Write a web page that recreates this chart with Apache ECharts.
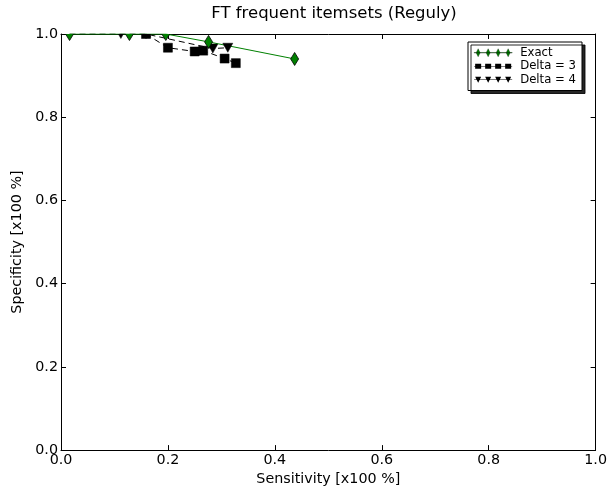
<!DOCTYPE html>
<html><head><meta charset="utf-8">
<script src="https://cdn.jsdelivr.net/npm/echarts@6/dist/echarts.min.js"></script>
<style>html,body{margin:0;padding:0;background:#fff}#c{width:610px;height:491px}</style>
</head><body><div id="c"></div>
<script>
const titleText = 'FT frequent itemsets (Reguly)';
const xAxisName = 'Sensitivity [x100 %]';
const yAxisName = 'Specificity [x100 %]';
const seriesNames = ['Exact', 'Delta = 3', 'Delta = 4'];
const exactX = [0.016, 0.128, 0.196, 0.276, 0.437];
const exactY = [1.0, 1.0, 1.0, 0.981, 0.940];
const delta3X = [0.159, 0.200, 0.250, 0.266, 0.306, 0.327];
const delta3Y = [1.0, 0.967, 0.958, 0.960, 0.941, 0.930];
const delta4X = [0.016, 0.112, 0.159, 0.284, 0.312];
const delta4Y = [1.0, 1.0, 1.0, 0.965, 0.967];
const tickValues = [0, 0.2, 0.4, 0.6, 0.8, 1.0];

const pair = (xs, ys) => xs.map((x, i) => [x, ys[i]]);
const font = 'DejaVu Sans';
const iconExact = 'path://M0,3.7L38,3.7L38,4.3L0,4.3Z M4,0L6,4L4,8L2,4Z M14,0L16,4L14,8L12,4Z M24,0L26,4L24,8L22,4Z M34,0L36,4L34,8L32,4Z';
const iconD3 = 'path://M1,1.5L7,1.5L7,6.5L1,6.5Z M11,1.5L17,1.5L17,6.5L11,6.5Z M21,1.5L27,1.5L27,6.5L21,6.5Z M31,1.5L37,1.5L37,6.5L31,6.5Z M0,3.7L38,3.7L38,4.3L0,4.3Z';
const iconD4 = 'path://M1,1L7,1L4,7Z M11,1L17,1L14,7Z M21,1L27,1L24,7Z M31,1L37,1L34,7Z M0,3.7L38,3.7L38,4.3L0,4.3Z';

const axisCommon = {
  type: 'value', min: 0, max: 1, interval: 0.2,
  splitLine: {show: false},
  axisLine: {show: true, onZero: false, lineStyle: {color: '#000', width: 1}},
  axisTick: {show: true, inside: true, length: 5, lineStyle: {color: '#000'}},
};
const fmt = v => v.toFixed(1);

function markerShape(kind, p) {
  const x = p[0], y = p[1];
  if (kind === 'diamond') {
    return {type: 'polygon', shape: {points: [[x, y - 6.5], [x + 4, y], [x, y + 6.5], [x - 4, y]]},
      style: {fill: '#008000', stroke: '#000', lineWidth: 0.8}};
  }
  if (kind === 'rect') {
    return {type: 'rect', shape: {x: x - 4.5, y: y - 4.5, width: 9, height: 9},
      style: {fill: '#000', stroke: '#000', lineWidth: 0.5}};
  }
  return {type: 'polygon', shape: {points: [[x - 5, y - 4.5], [x + 5, y - 4.5], [x, y + 4.5]]},
    style: {fill: '#000', stroke: '#000', lineWidth: 0.5}};
}
function markerSeries(name, data, kind, z) {
  return {
    name: name, type: 'custom', data: data, clip: true, z: z,
    renderItem: function (params, api) {
      const p = api.coord([api.value(0), api.value(1)]);
      return markerShape(kind, p);
    }
  };
}

const chart = echarts.init(document.getElementById('c'), null, {renderer: 'canvas'});
chart.setOption({
  animation: false,
  backgroundColor: '#fff',
  textStyle: {fontFamily: font},
  title: {text: titleText, left: 329, top: 0, textAlign: 'center',
    textStyle: {fontFamily: font, fontSize: 16.5, fontWeight: 'normal', color: '#000'}},
  grid: {left: 61, right: 13, top: 34, bottom: 38, containLabel: false},
  legend: {
    right: 28, top: 42, orient: 'vertical', itemGap: 0,
    itemWidth: 38, itemHeight: 8,
    backgroundColor: '#fff', borderColor: '#000', borderWidth: 1, borderRadius: 0,
    padding: [4, 6, 4, 6],
    shadowColor: 'rgba(0,0,0,0.85)', shadowBlur: 0, shadowOffsetX: 3, shadowOffsetY: 3,
    textStyle: {fontFamily: font, fontSize: 11.7, color: '#000', padding: [0, 0, 0, 3], lineHeight: 13.5},
    data: [
      {name: seriesNames[0], icon: iconExact, itemStyle: {color: '#008000', borderColor: '#000', borderWidth: 0.3}},
      {name: seriesNames[1], icon: iconD3, itemStyle: {color: '#000'}},
      {name: seriesNames[2], icon: iconD4, itemStyle: {color: '#000'}}
    ]
  },
  xAxis: [
    Object.assign({}, axisCommon, {position: 'bottom',
      name: xAxisName, nameLocation: 'middle', nameGap: 18,
      nameTextStyle: {fontFamily: font, fontSize: 14.3, color: '#000'},
      axisLabel: {formatter: fmt, fontFamily: font, fontSize: 14.3, color: '#000', margin: 3}}),
    Object.assign({}, axisCommon, {position: 'top', axisLabel: {show: false}})
  ],
  yAxis: [
    Object.assign({}, axisCommon, {position: 'left',
      name: yAxisName, nameLocation: 'middle', nameGap: 36,
      nameTextStyle: {fontFamily: font, fontSize: 14.3, color: '#000'},
      axisLabel: {formatter: fmt, fontFamily: font, fontSize: 14.3, color: '#000', margin: 3}}),
    Object.assign({}, axisCommon, {position: 'right', axisLabel: {show: false}})
  ],
  series: [
    {name: seriesNames[1], type: 'line', data: pair(delta3X, delta3Y), clip: true,
      symbol: 'none', lineStyle: {color: '#000', width: 1, type: [6, 4]}, z: 2},
    {name: seriesNames[2], type: 'line', data: pair(delta4X, delta4Y), clip: true,
      symbol: 'none', lineStyle: {color: '#000', width: 1, type: [6, 4]}, z: 2},
    {name: seriesNames[0], type: 'line', data: pair(exactX, exactY), clip: true,
      symbol: 'none', lineStyle: {color: '#008000', width: 1}, z: 2},
    markerSeries(seriesNames[1], pair(delta3X, delta3Y), 'rect', 3),
    markerSeries(seriesNames[2], pair(delta4X, delta4Y), 'triangle', 4),
    markerSeries(seriesNames[0], pair(exactX, exactY), 'diamond', 5)
  ]
});
</script></body></html>
